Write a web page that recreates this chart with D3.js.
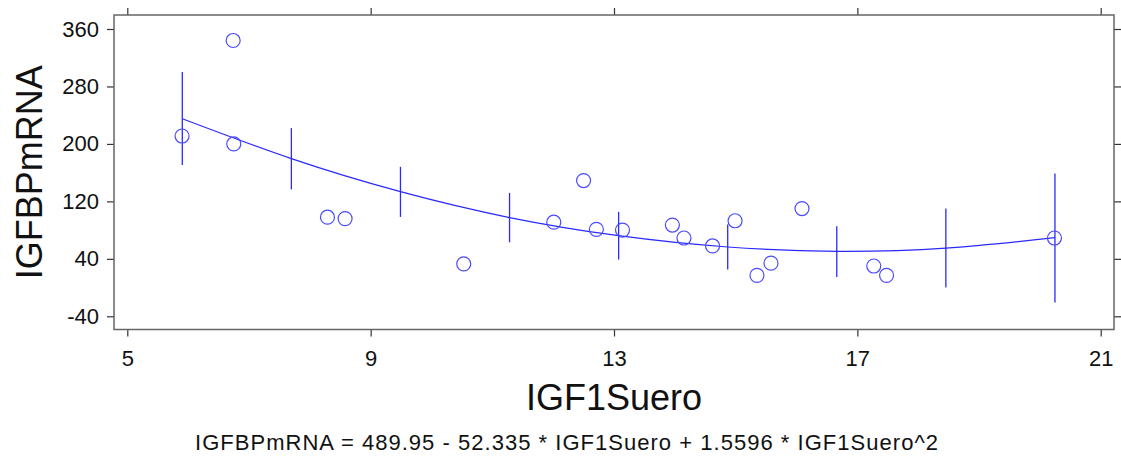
<!DOCTYPE html>
<html>
<head>
<meta charset="utf-8">
<script src="https://cdn.jsdelivr.net/npm/d3@7"></script>
<style>
  body { margin: 0; background: #fff; }
  svg { display: block; font-family: "Liberation Sans", Arial, sans-serif; }
</style>
</head>
<body>
<svg id="svg" width="1121" height="456"></svg>
<script>
// observed points
var igf1 = [5.90, 6.74, 6.75, 8.29, 8.58, 10.53, 12.01, 12.50, 12.71, 13.14, 13.96, 14.15, 14.62, 14.99, 15.35, 15.58, 16.09, 17.27, 17.48, 20.24];
var igfbp = [211, 344, 200, 98, 96, 33, 91, 149, 81, 80, 87, 69, 58, 93, 17, 34, 110, 30, 17, 69];

// fitted curve and interval bars, read at 9 positions
var fitX = [5.904, 7.697, 9.49, 11.283, 13.076, 14.869, 16.662, 18.455, 20.248];
var fitY = [235, 179.5, 133.5, 97.5, 72.2, 56.5, 50.5, 55, 69.5];
var ciLow = [170.5, 136.6, 98.4, 63.1, 39, 25.1, 14.8, 0, -20.9];
var ciHigh = [300.1, 222, 168.1, 131.8, 105.4, 87.8, 85.4, 110.1, 158.9];

var xTicks = [5, 9, 13, 17, 21];
var yTicks = [-40, 40, 120, 200, 280, 360];

var equation = 'IGFBPmRNA = 489.95 - 52.335 * IGF1Suero + 1.5596 * IGF1Suero^2';

/* frame */
var frame = { left: 114, right: 1114, top: 15, bottom: 329.5 };

var x = d3.scaleLinear().domain([5, 21]).range([127.3, 1100.7]);
var y = d3.scaleLinear().domain([-40, 360]).range([316.3, 29]);

var s = d3.select('#svg');
var blue = '#2a2aff';

// axes
function styleAxis(g) {
  g.attr('font-family', null);
  g.select('.domain').remove();
  g.selectAll('.tick line').attr('stroke', '#333').attr('stroke-width', 1.2);
  g.selectAll('.tick text').attr('fill', '#111').style('font-size', '22px');
}

s.append('g')
  .attr('transform', 'translate(' + frame.left + ',0)')
  .call(d3.axisLeft(y).tickValues(yTicks).tickSize(7).tickPadding(8).tickFormat(String))
  .call(styleAxis);

s.append('g')
  .attr('transform', 'translate(' + frame.right + ',0)')
  .call(d3.axisRight(y).tickValues(yTicks).tickSize(7).tickFormat(''))
  .call(styleAxis);

s.append('g')
  .attr('transform', 'translate(0,' + frame.bottom + ')')
  .call(d3.axisBottom(x).tickValues(xTicks).tickSize(7).tickPadding(14).tickFormat(String))
  .call(styleAxis);

s.append('g')
  .attr('transform', 'translate(0,' + frame.top + ')')
  .call(d3.axisTop(x).tickValues(xTicks).tickSize(7).tickFormat(''))
  .call(styleAxis);

// frame
s.append('rect')
  .attr('x', frame.left)
  .attr('y', frame.top)
  .attr('width', frame.right - frame.left)
  .attr('height', frame.bottom - frame.top)
  .attr('fill', 'none')
  .attr('stroke', '#666')
  .attr('stroke-width', 1.5);

// fitted curve
var line = d3.line()
  .x(function (d, i) { return x(fitX[i]); })
  .y(function (d) { return y(d); })
  .curve(d3.curveNatural);

s.append('path')
  .datum(fitY)
  .attr('d', line)
  .attr('fill', 'none')
  .attr('stroke', blue)
  .attr('stroke-width', 1.2);

// interval bars
s.selectAll('line.ci')
  .data(fitX)
  .enter()
  .append('line')
  .attr('class', 'ci')
  .attr('x1', function (d) { return x(d); })
  .attr('x2', function (d) { return x(d); })
  .attr('y1', function (d, i) { return y(ciLow[i]); })
  .attr('y2', function (d, i) { return y(ciHigh[i]); })
  .attr('stroke', blue)
  .attr('stroke-width', 1.3);

// points
s.selectAll('circle.pt')
  .data(igf1)
  .enter()
  .append('circle')
  .attr('class', 'pt')
  .attr('cx', function (d) { return x(d); })
  .attr('cy', function (d, i) { return y(igfbp[i]); })
  .attr('r', 7)
  .attr('fill', 'none')
  .attr('stroke', '#4a4aff')
  .attr('stroke-width', 1.2);

// titles
s.append('text')
  .attr('x', (frame.left + frame.right) / 2)
  .attr('y', 410)
  .attr('text-anchor', 'middle')
  .style('font-size', '36px')
  .attr('fill', '#111')
  .text('IGF1Suero');

s.append('text')
  .attr('transform', 'translate(42,' + (frame.top + frame.bottom) / 2 + ') rotate(-90)')
  .attr('text-anchor', 'middle')
  .style('font-size', '36px')
  .attr('fill', '#111')
  .text('IGFBPmRNA');

s.append('text')
  .attr('x', 195)
  .attr('y', 450)
  .attr('textLength', 743)
  .attr('lengthAdjust', 'spacing')
  .style('font-size', '22px')
  .attr('fill', '#111')
  .text(equation);
</script>
</body>
</html>
